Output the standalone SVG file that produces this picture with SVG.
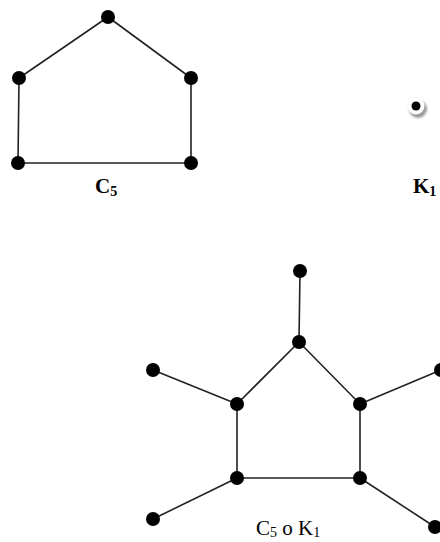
<svg xmlns="http://www.w3.org/2000/svg" width="440" height="542" viewBox="0 0 440 542">
<defs>
<style>
.e{stroke:#222;stroke-width:1.6;fill:none}
.n{fill:#000}
.lb{font-family:"Liberation Serif",serif;font-weight:bold;font-size:21px;fill:#000}
.lr{font-family:"Liberation Serif",serif;font-size:21px;fill:#000}
.sub{font-size:14px}
</style>
<filter id="sh" x="-50%" y="-50%" width="200%" height="200%">
<feGaussianBlur stdDeviation="1.3"/>
</filter>
</defs>
<rect width="440" height="542" fill="#fff"/>
<g id="connectors">
<polyline class="e" points="108,17 19,78 18,163 191,163 191,78 108,17"/>
<polyline class="e" points="299,342 237,404 237,478 360,478 360,404 299,342"/>
<line class="e" x1="299" y1="342" x2="300" y2="271"/>
<line class="e" x1="237" y1="404" x2="153" y2="370"/>
<line class="e" x1="360" y1="404" x2="441" y2="370"/>
<line class="e" x1="237" y1="478" x2="153" y2="519"/>
<line class="e" x1="360" y1="478" x2="435" y2="527"/>
</g>
<g id="c5-top"><circle class="n" cx="108" cy="17" r="7"/></g>
<g id="c5-left"><circle class="n" cx="19" cy="78" r="7"/></g>
<g id="c5-right"><circle class="n" cx="191" cy="78" r="7"/></g>
<g id="c5-bl"><circle class="n" cx="18" cy="163" r="7"/></g>
<g id="c5-br"><circle class="n" cx="191" cy="163" r="7"/></g>
<g id="c5-label"><text class="lb" x="95" y="193">C<tspan class="sub" dy="3">5</tspan></text></g>
<g id="k1">
<circle cx="418" cy="109" r="9" fill="#999" filter="url(#sh)"/>
<circle cx="416" cy="106" r="8.5" fill="#fff"/>
<circle class="n" cx="416" cy="106" r="4.5"/>
</g>
<g id="k1-label"><text class="lb" x="413" y="193">K<tspan class="sub" dy="3">1</tspan></text></g>
<g id="p-top"><circle class="n" cx="299" cy="342" r="7"/></g>
<g id="p-left"><circle class="n" cx="237" cy="404" r="7"/></g>
<g id="p-right"><circle class="n" cx="360" cy="404" r="7"/></g>
<g id="p-bl"><circle class="n" cx="237" cy="478" r="7"/></g>
<g id="p-br"><circle class="n" cx="360" cy="478" r="7"/></g>
<g id="l-top"><circle class="n" cx="300" cy="271" r="7"/></g>
<g id="l-left"><circle class="n" cx="153" cy="370" r="7"/></g>
<g id="l-right"><circle class="n" cx="441" cy="370" r="7"/></g>
<g id="l-bl"><circle class="n" cx="153" cy="519" r="7"/></g>
<g id="l-br"><circle class="n" cx="435" cy="527" r="7"/></g>
<g id="corona-label"><text class="lr" x="256" y="535">C<tspan class="sub" dy="2">5</tspan><tspan dy="-2"> o K</tspan><tspan class="sub" dy="2">1</tspan></text></g>
</svg>
